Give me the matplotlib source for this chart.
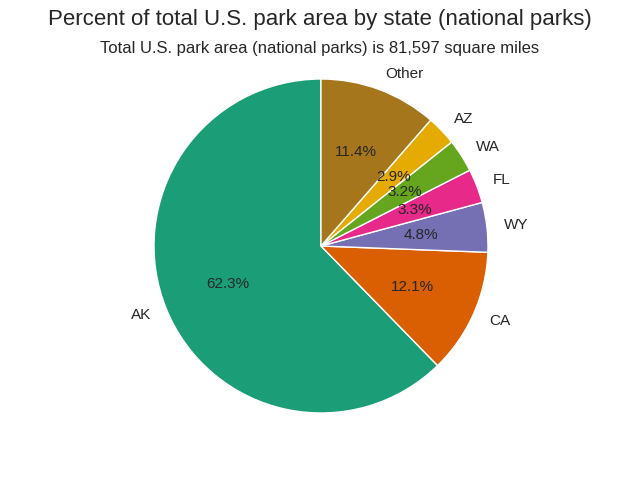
import matplotlib.pyplot as plt
import seaborn as sns

states = ['AK', 'CA', 'WY', 'FL', 'WA', 'AZ', 'Other']
pct = [62.3, 12.1, 4.8, 3.3, 3.2, 2.9, 11.4]
colors = ['#1b9e77', '#d95f02', '#7570b3', '#e7298a', '#66a61e', '#e6ab02', '#a6761d']

sns.set_style('white')
plt.rcParams['font.family'] = ['Liberation Sans', 'DejaVu Sans']
plt.rcParams['text.color'] = '.15'

fig = plt.figure(figsize=(6.4, 4.8), dpi=100)
# pie centre ~ (321, 246) px, radius ~167 px
ax = fig.add_axes([0.1754, 0.0526, 0.6523, 0.8698])
ax.pie(pct, labels=states, colors=colors, autopct='%1.1f%%', startangle=90,
       wedgeprops={'edgecolor': 'white', 'linewidth': 1},
       textprops={'fontsize': 11})
ax.set_xlim(-1.25, 1.25)
ax.set_ylim(-1.25, 1.25)
ax.set_aspect('equal')

fig.text(0.5, 0.96, 'Percent of total U.S. park area by state (national parks)',
         ha='center', va='center', fontsize=16)
fig.text(0.5, 0.90, 'Total U.S. park area (national parks) is 81,597 square miles',
         ha='center', va='center', fontsize=12)

fig.savefig('out.png', dpi=100)
